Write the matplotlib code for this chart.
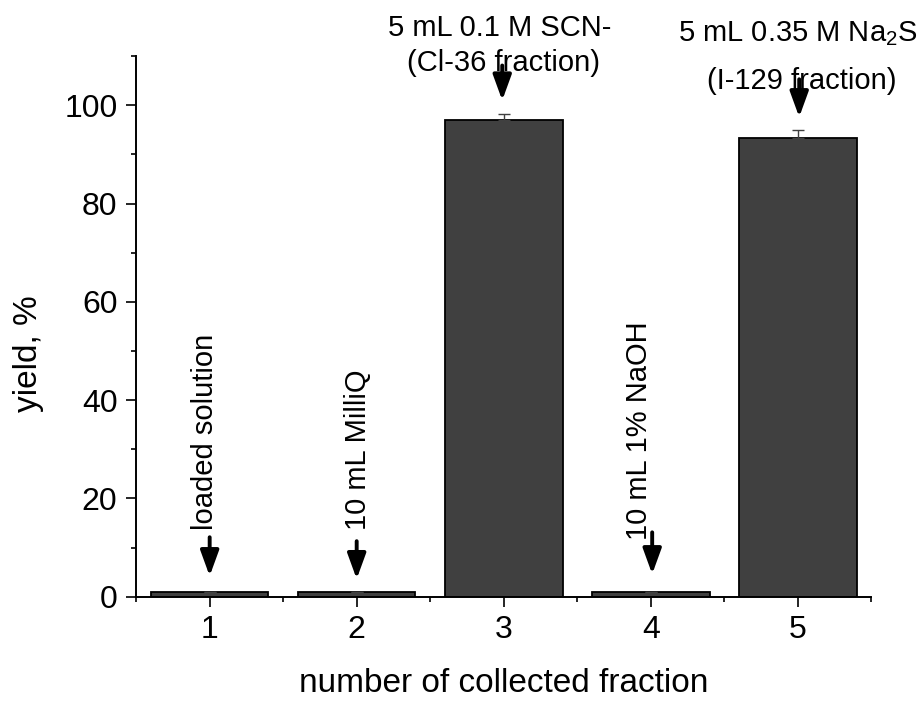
"""Yield per collected fraction: bar chart with eluent annotations."""
import matplotlib
matplotlib.use("Agg")
import matplotlib.pyplot as plt
from matplotlib.ticker import MultipleLocator

plt.rcParams["font.family"] = ["Liberation Sans", "DejaVu Sans"]
plt.rcParams["mathtext.default"] = "regular"

# data
FRACTIONS = [1, 2, 3, 4, 5]
YIELD = [1.0, 1.0, 97.1, 1.0, 93.3]
ERR = [0.0, 0.0, 1.1, 0.0, 1.6]

LOW_LABELS = ["loaded solution", "10 mL MilliQ", "10 mL 1% NaOH"]
TOP_LINE1 = ["5 mL 0.1 M SCN-", "5 mL 0.35 M Na$_2$S"]
TOP_LINE2 = ["(Cl-36 fraction)", "(I-129 fraction)"]

BAR, ERRC = "#404040", "#404040"

fig = plt.figure(figsize=(9.2, 7.02), dpi=100)
ax = fig.add_axes([0.148, 0.150, 0.799, 0.770])

ax.bar(FRACTIONS, YIELD, width=0.8, color=BAR, edgecolor="black", lw=1.3, zorder=2)
ax.errorbar(FRACTIONS, YIELD, yerr=[[0] * len(ERR), ERR], fmt="none",
            ecolor=ERRC, elinewidth=1.0, capsize=4.5, capthick=1.0, zorder=3)

arrow = dict(arrowstyle="-|>,head_length=0.55,head_width=0.2", lw=2.8,
             color="black", shrinkA=0, shrinkB=0, mutation_scale=28)

# annotations near the small bars (vertical text + arrow)
text_x = [0.965, 2.01, 3.92]
text_y = [13.5, 13.5, 11.5]
arr_x = [1.0, 2.0, 4.01]
arr_tail = [12.1, 11.3, 13.1]
arr_tip = [4.2, 3.6, 4.6]
for i, lab in enumerate(LOW_LABELS):
    ax.text(text_x[i], text_y[i], lab, rotation=90, ha="center", va="bottom",
            fontsize=21)
    ax.annotate("", xy=(arr_x[i], arr_tip[i]), xytext=(arr_x[i], arr_tail[i]),
                arrowprops=arrow)

# annotations over the tall bars
l1_x, l1_y = [2.97, 5.0], [114.1, 113.1]
l2_x, l2_y = [3.0, 5.03], [106.9, 103.4]
top_tail, top_tip = [108.1, 105.3], [101.0, 97.6]
top_ax = [2.99, 5.01]
for i in range(2):
    ax.text(l1_x[i], l1_y[i], TOP_LINE1[i], ha="center", va="baseline",
            fontsize=21, clip_on=False)
    ax.text(l2_x[i], l2_y[i], TOP_LINE2[i], ha="center", va="baseline",
            fontsize=21, clip_on=False)
    ax.annotate("", xy=(top_ax[i], top_tip[i]), xytext=(top_ax[i], top_tail[i]),
                arrowprops=arrow, annotation_clip=False)

ax.set_xlim(0.5, 5.5)
ax.set_ylim(0, 110)
ax.set_xticks(FRACTIONS)
ax.xaxis.set_minor_locator(MultipleLocator(1, offset=0.5))
ax.yaxis.set_major_locator(MultipleLocator(20))
ax.yaxis.set_minor_locator(MultipleLocator(10))
ax.tick_params(which="major", direction="out", length=7.5, width=1.2,
               labelsize=23, pad=6)
ax.tick_params(which="minor", direction="out", length=3.8, width=1.2)
for side in ("top", "right"):
    ax.spines[side].set_visible(False)
for side in ("left", "bottom"):
    ax.spines[side].set_linewidth(1.4)

ax.set_xlabel("number of collected fraction", fontsize=24, labelpad=16)
ax.set_ylabel("yield, %", fontsize=24)
ax.yaxis.set_label_coords(-0.125, 0.45)

fig.savefig("out.png", dpi=100)
